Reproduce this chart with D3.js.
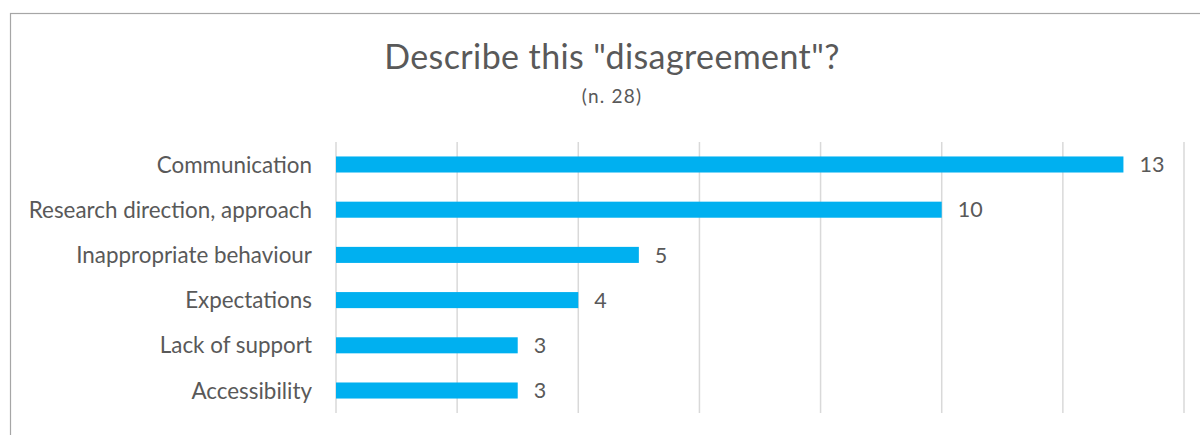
<!DOCTYPE html>
<html>
<head>
<meta charset="utf-8">
<script src="https://cdn.jsdelivr.net/npm/d3@7"></script>
<style>
  html, body { margin: 0; padding: 0; background: #fff; }
  svg { display: block; }
  text { font-family: Lato, "Open Sans", sans-serif; fill: #595959; }
</style>
</head>
<body>
<svg id="chart" width="1200" height="435"></svg>
<script>
// Responses to "Describe this disagreement", n = 28
const categories = [
  "Communication",
  "Research direction, approach",
  "Inappropriate behaviour",
  "Expectations",
  "Lack of support",
  "Accessibility"
];
const counts = [13, 10, 5, 4, 3, 3];
const gridTicks = [0, 2, 4, 6, 8, 10, 12, 14];
const titleText = "Describe this \"disagreement\"?";
const subtitleText = "(n. 28)";

const plot = { left: 336, right: 1184, top: 142, bottom: 413 };

const svg = d3.select("#chart");

// chart frame (right and bottom edges fall outside the view)
svg.append("rect")
  .attr("x", 10.5).attr("y", 13.5)
  .attr("width", 1300).attr("height", 500)
  .attr("fill", "none")
  .attr("stroke", "#a6a6a6")
  .attr("stroke-width", 1.2);

const x = d3.scaleLinear().domain([0, 14]).range([plot.left, plot.right]);
const y = d3.scaleBand().domain(categories)
  .range([plot.top, plot.bottom]).paddingInner(0.645).paddingOuter(0.32);

// vertical gridlines
svg.append("g").selectAll("line")
  .data(gridTicks)
  .join("line")
  .attr("x1", d => x(d)).attr("x2", d => x(d))
  .attr("y1", plot.top).attr("y2", plot.bottom)
  .attr("stroke", "#d9d9d9")
  .attr("stroke-width", 1.5);

// bars
svg.append("g").selectAll("rect")
  .data(categories)
  .join("rect")
  .attr("x", x(0))
  .attr("y", d => y(d))
  .attr("width", (d, i) => x(counts[i]) - x(0))
  .attr("height", y.bandwidth())
  .attr("fill", "#00b0f0");

// category labels
svg.append("g").selectAll("text")
  .data(categories)
  .join("text")
  .attr("x", plot.left - 24)
  .attr("y", d => y(d) + y.bandwidth() / 2)
  .attr("dy", "0.36em")
  .attr("text-anchor", "end")
  .attr("font-size", 22.4)
  .text(d => d);

// value labels
svg.append("g").selectAll("text")
  .data(categories)
  .join("text")
  .attr("x", (d, i) => x(counts[i]) + 16)
  .attr("y", d => y(d) + y.bandwidth() / 2)
  .attr("dy", "0.36em")
  .attr("font-size", 21.5)
  .text((d, i) => counts[i]);

// title
svg.append("text")
  .attr("x", 612).attr("y", 69)
  .attr("text-anchor", "middle")
  .attr("font-size", 34)
  .attr("letter-spacing", 0.4)
  .text(titleText);

svg.append("text")
  .attr("x", 612).attr("y", 103)
  .attr("text-anchor", "middle")
  .attr("font-size", 19)
  .attr("letter-spacing", 1.2)
  .text(subtitleText);
</script>
</body>
</html>
